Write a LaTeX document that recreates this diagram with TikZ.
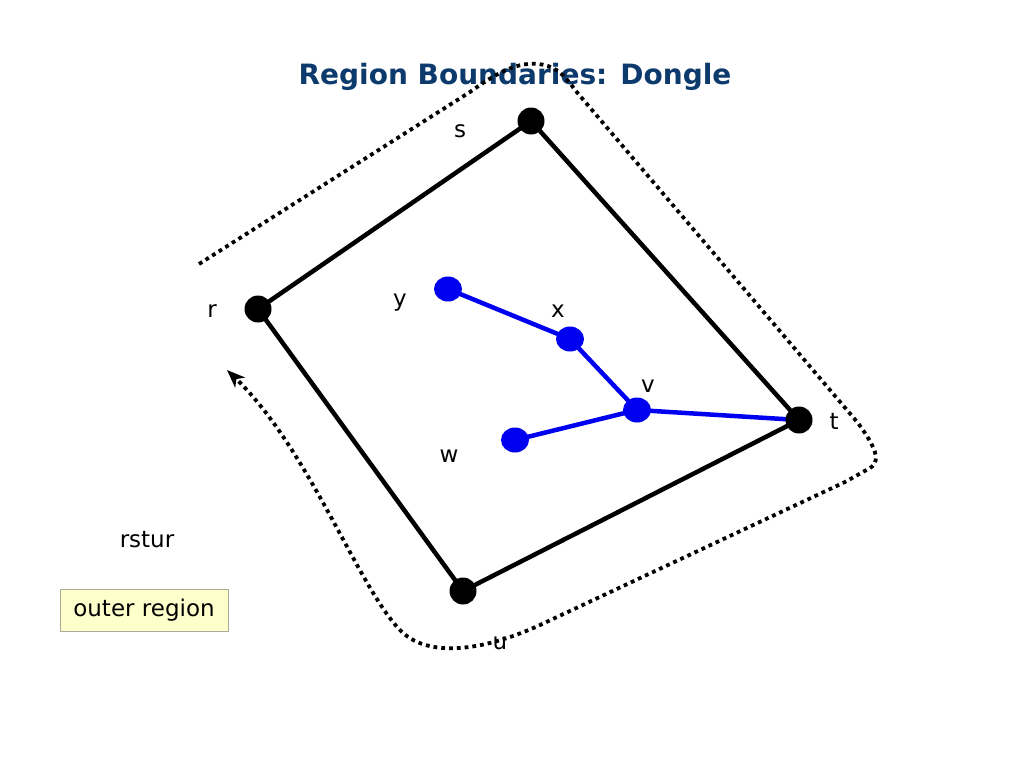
\documentclass[tikz,border=0pt]{standalone}
\usepackage{fontspec}
\setmainfont{DejaVu Sans}
\usetikzlibrary{arrows.meta,shapes.geometric}
\definecolor{titleblue}{RGB}{12,58,108}
\definecolor{dotblue}{RGB}{0,0,240}
\definecolor{noteyellow}{RGB}{255,255,204}
\definecolor{notegray}{RGB}{170,170,150}
\tikzset{
  outerdot/.style={circle,fill=black,inner sep=0pt,minimum size=27pt},
  innerdot/.style={ellipse,fill=dotblue,inner sep=0pt,minimum width=28pt,minimum height=25pt},
  lbl/.style={font=\fontsize{23}{26}\selectfont,inner sep=0pt},
  outeredge/.style={line width=4.5pt,black},
  inneredge/.style={line width=4.5pt,dotblue},
  boundary/.style={line width=3.8pt,dash pattern=on 3.8pt off 4pt},
}
\begin{document}
\begin{tikzpicture}[x=1pt,y=-1pt]
\useasboundingbox (0,0) rectangle (1024,768);
\node[font=\fontsize{28}{32}\selectfont\bfseries,text=titleblue] (title) at (515,77) {Region Boundaries: Dongle};

% dotted boundary walk
\coordinate (bstart) at (199,264);
\coordinate (bend) at (227,370);
\draw[boundary,-{Stealth[length=18pt,width=14pt,inset=5pt]}] (bstart) -- (470,92)
  .. controls (498,72) and (522,58) .. (548,66)
  .. controls (560,70) and (568,80) .. (575,90)
  -- (858,423)
  .. controls (870,440) and (884,460) .. (870,468)
  -- (845,482) -- (540,625)
  .. controls (490,648) and (432,660) .. (402,632)
  .. controls (360,592) and (310,450) .. (bend);

% vertex positions
\coordinate (ps) at (531,121);
\coordinate (pr) at (258,309);
\coordinate (pt) at (799,420);
\coordinate (pu) at (463,591);
\coordinate (py) at (448,289);
\coordinate (px) at (570,339);
\coordinate (pv) at (637,410);
\coordinate (pw) at (515,440);

\draw[outeredge] (pr) -- (ps) -- (pt) -- (pu) -- cycle;
\draw[inneredge] (py) -- (px) -- (pv) -- (pt);
\draw[inneredge] (pw) -- (pv);

\node[outerdot] (s) at (ps) {};
\node[outerdot] (r) at (pr) {};
\node[outerdot] (t) at (pt) {};
\node[outerdot] (u) at (pu) {};
\node[innerdot] (y) at (py) {};
\node[innerdot] (x) at (px) {};
\node[innerdot] (v) at (pv) {};
\node[innerdot] (w) at (pw) {};

% labels
\node[lbl] (ls) at (460,131) {s};
\node[lbl] (lr) at (212,311) {r};
\node[lbl] (ly) at (400,303) {y};
\node[lbl] (lx) at (558,311) {x};
\node[lbl] (lv) at (648,386) {v};
\node[lbl] (lt) at (834,421) {t};
\node[lbl] (lw) at (449,456) {w};
\node[lbl] (lu) at (500,643) {u};
\node[lbl] (rstur) at (147,540) {rstur};
\node[draw=notegray,fill=noteyellow,line width=1pt,minimum width=168pt,minimum height=42pt,font=\fontsize{23}{26}\selectfont] (outer) at (144,610) {outer region};
\end{tikzpicture}
\end{document}
